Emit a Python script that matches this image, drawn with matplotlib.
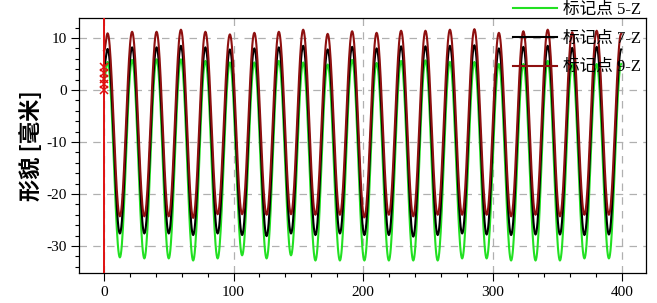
import numpy as np
import matplotlib
matplotlib.use("Agg")
import matplotlib.pyplot as plt
from matplotlib.ticker import MultipleLocator

plt.rcParams["axes.unicode_minus"] = False

# ---- data ----
peak_x = [2.8, 21.7, 40.6, 59.4, 78.3, 97.2, 116.1, 135.0, 153.8, 172.7, 191.6,
          210.5, 229.4, 248.2, 267.1, 286.0, 304.9, 323.8, 342.6, 361.5, 380.4, 399.3]

green_peaks = [5.4, 5.8, 5.9, 5.9, 5.6, 5.3, 5.3, 5.6, 5.3, 4.9, 5.8,
               5.2, 5.6, 5.7, 5.4, 5.4, 5.0, 5.0, 5.6, 5.0, 5.0, 5.0]
green_troughs = [-32.2, -32.4, -32.4, -32.8, -32.4, -31.8, -32.4, -31.8, -32.8, -32.8, -32.8,
                 -32.8, -32.8, -32.8, -32.4, -32.4, -32.8, -32.8, -32.8, -32.4, -32.4]

black_peaks = [7.9, 8.2, 8.2, 8.5, 8.2, 7.8, 8.0, 8.2, 8.5, 7.8, 8.3,
               8.0, 8.4, 8.4, 8.5, 8.6, 8.0, 8.3, 8.5, 8.1, 8.3, 7.8]
black_troughs = [-27.6, -27.6, -27.6, -27.9, -27.6, -27.9, -28.1, -27.6, -27.9, -27.6, -27.9,
                 -27.9, -28.2, -27.9, -27.6, -27.8, -27.9, -27.8, -27.8, -27.9, -27.8]

red_peaks = [10.9, 11.2, 11.2, 11.6, 11.2, 10.7, 11.0, 11.2, 11.6, 10.8, 11.3,
             11.0, 11.4, 11.4, 11.6, 11.7, 11.0, 11.3, 11.6, 11.1, 11.4, 10.8]
red_troughs = [-24.3, -24.3, -24.3, -24.6, -23.9, -23.9, -24.0, -23.9, -24.0, -24.0, -24.5,
               -24.0, -24.3, -24.0, -24.0, -24.0, -24.3, -24.0, -24.3, -24.0, -24.0]

start_x = 0.0
start_vals = {"green": 2.0, "black": 4.5, "red": 7.5}

marker_y = [0.0, 1.1, 2.2, 3.3, 4.4]
labels = ["标记点 5-Z", "标记点 7-Z", "标记点 9-Z"]

xticks = [0, 100, 200, 300, 400]
yticks = [-30, -20, -10, 0, 10]


def build(peaks, troughs, y0):
    ex = [start_x]
    ey = [y0]
    for i in range(len(peaks)):
        ex.append(peak_x[i]); ey.append(peaks[i])
        if i < len(troughs):
            ex.append(0.5 * (peak_x[i] + peak_x[i + 1])); ey.append(troughs[i])
    xs, ys = [], []
    for i in range(len(ex) - 1):
        t = np.linspace(0, 1, 24, endpoint=False)
        xs.append(ex[i] + (ex[i + 1] - ex[i]) * t)
        ys.append(ey[i] + (ey[i + 1] - ey[i]) * (1 - np.cos(np.pi * t)) / 2)
    xs.append([ex[-1]]); ys.append([ey[-1]])
    return np.concatenate(xs), np.concatenate(ys)


fig = plt.figure(figsize=(6.57, 3.03), dpi=100)
ax = fig.add_axes([79 / 657, 1 - 273 / 303, 567 / 657, 255 / 303])

serif = ["Liberation Serif", "Noto Sans CJK SC"]

gx, gy = build(green_peaks, green_troughs, start_vals["green"])
bx, by = build(black_peaks, black_troughs, start_vals["black"])
rx, ry = build(red_peaks, red_troughs, start_vals["red"])

ax.plot(gx, gy, color="#22e022", lw=1.5, label=labels[0], zorder=3)
ax.plot(bx, by, color="#000000", lw=1.5, label=labels[1], zorder=4)
ax.plot(rx, ry, color="#8e1010", lw=1.5, label=labels[2], zorder=5)

ax.axvline(0, color="#e01010", lw=1.4, zorder=6)
ax.plot([0] * len(marker_y), marker_y, linestyle="none", marker="x",
        color="#e01010", ms=6, mew=1.1, zorder=7)

ax.set_xlim(-19.3, 418.5)
ax.set_ylim(-35.2, 13.85)
ax.set_xticks(xticks)
ax.set_yticks(yticks)
ax.xaxis.set_minor_locator(MultipleLocator(20))
ax.yaxis.set_minor_locator(MultipleLocator(2))
ax.tick_params(which="major", direction="out", length=6, width=0.8, pad=3)
ax.tick_params(which="minor", direction="out", length=3, width=0.8)
for lab in ax.get_xticklabels() + ax.get_yticklabels():
    lab.set_fontfamily(serif)
    lab.set_fontsize(11)

ax.grid(True, which="major", color="#b0b0b0", linestyle=(0, (6, 5)), lw=0.9)
ax.set_axisbelow(True)
for s in ax.spines.values():
    s.set_linewidth(0.9)

ax.set_ylabel("形貌 [毫米]", family=["Noto Sans CJK SC", "DejaVu Sans"],
              fontsize=16, fontweight="bold", labelpad=2)

leg = ax.legend(loc="upper left", bbox_to_anchor=(513 / 657, 1 - 2 / 303),
                bbox_transform=fig.transFigure, frameon=False,
                borderpad=0, borderaxespad=0, handlelength=2.65,
                handletextpad=0.37, labelspacing=0.76,
                prop={"family": serif, "size": 12})

fig.savefig("out.png", dpi=100)
